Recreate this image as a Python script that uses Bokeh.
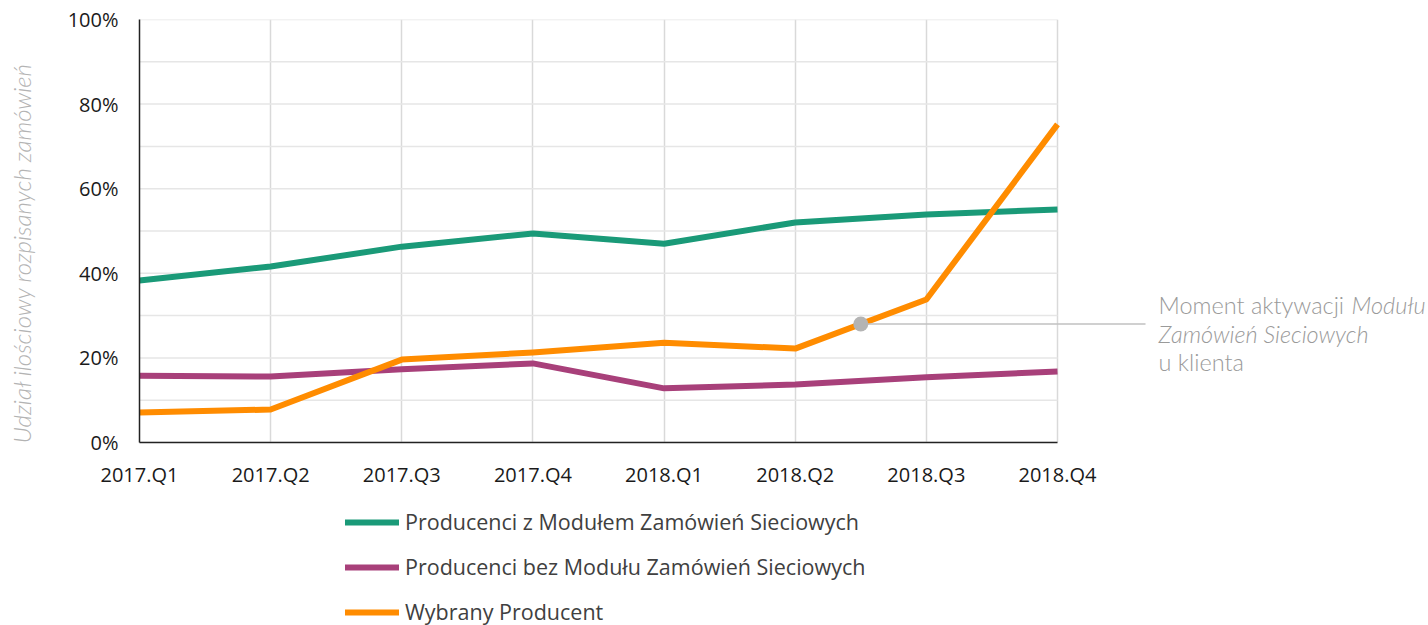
from bokeh.plotting import figure
from bokeh.layouts import column
from bokeh.models import (FixedTicker, Legend, LegendItem, Label, NumeralTickFormatter,
                          Range1d, LinearAxis)
from bokeh.embed import file_html
from bokeh.resources import INLINE

quarters = ["2017.Q1", "2017.Q2", "2017.Q3", "2017.Q4", "2018.Q1", "2018.Q2", "2018.Q3", "2018.Q4"]
with_module = [0.383, 0.416, 0.463, 0.494, 0.470, 0.520, 0.539, 0.551]
without_module = [0.158, 0.156, 0.173, 0.187, 0.128, 0.137, 0.154, 0.168]
selected = [0.071, 0.078, 0.196, 0.213, 0.236, 0.222, 0.338, 0.752]
series_names = ["Producenci z Modułem Zamówień Sieciowych",
                "Producenci bez Modułu Zamówień Sieciowych",
                "Wybrany Producent"]
colors = ["#1a9a78", "#a8407a", "#ff8c00"]
activation_x = 5.5
activation_y = 0.280
y_ticks = [0, 0.2, 0.4, 0.6, 0.8, 1.0]
y_grid = [0, 0.1, 0.2, 0.3, 0.4, 0.5, 0.6, 0.7, 0.8, 0.9, 1.0]
y_axis_title = "Udział ilościowy rozpisanych zamówień"
annotation_lines = [("Moment aktywacji", "normal"), ("Modułu", "italic"),
                    ("Zamówień Sieciowych", "italic"), ("u klienta", "normal")]

xs = list(range(len(quarters)))
last = len(quarters) - 1

# layout geometry (pixels)
W, H_MAIN, H_LEG = 1428, 490, 135
FRAME_L, FRAME_R_DATA, FRAME_T, FRAME_B = 139, 1057, 19, 442
x_end = last * (W - FRAME_L) / (FRAME_R_DATA - FRAME_L)   # extend frame to the right edge
px_per_unit = (FRAME_R_DATA - FRAME_L) / last

p = figure(width=W, height=H_MAIN, output_backend="svg", toolbar_location=None,
           x_range=Range1d(0, x_end), y_range=Range1d(0, 1.0),
           min_border_left=FRAME_L, min_border_right=0, min_border_top=FRAME_T,
           min_border_bottom=H_MAIN - FRAME_B)
p.outline_line_color = None

# axes
p.xaxis.ticker = FixedTicker(ticks=xs)
p.xaxis.bounds = (0, last)
p.xaxis.major_label_overrides = {i: q for i, q in enumerate(quarters)}
p.yaxis.ticker = FixedTicker(ticks=y_ticks)
p.yaxis.formatter = NumeralTickFormatter(format="0%")
for ax in (p.xaxis, p.yaxis):
    ax.axis_line_color = "#222222"
    ax.axis_line_width = 1.5
    ax.major_tick_line_color = None
    ax.minor_tick_line_color = None
    ax.major_label_text_font = "Open Sans"
    ax.major_label_text_font_size = "20px"
    ax.major_label_text_color = "#1a1a1a"
p.xaxis.major_label_standoff = 12
p.yaxis.major_label_standoff = 15

# y-axis title on an extra, label-only axis; trailing spaces nudge it downwards
title_axis = LinearAxis(ticker=FixedTicker(ticks=[]),
                        axis_line_color=None, major_tick_line_color=None,
                        minor_tick_line_color=None,
                        axis_label=y_axis_title + "\u2003\u2003\u2002", axis_label_standoff=29,
                        axis_label_text_font="Lato Light", axis_label_text_font_style="italic",
                        axis_label_text_font_size="24px", axis_label_text_color="#b3b3b3")
p.add_layout(title_axis, "left")

# grid
p.xgrid.ticker = FixedTicker(ticks=xs)
p.xgrid.grid_line_color = "#d9d9d9"
p.xgrid.grid_line_width = 1.5
p.ygrid.visible = False
p.segment(x0=[0] * len(y_grid), x1=[last] * len(y_grid), y0=y_grid, y1=y_grid,
          line_color="#e6e6e6", line_width=1.5)

renderers = []
for vals, c in zip([with_module, without_module, selected], colors):
    r = p.line(xs, vals, line_color=c, line_width=6, line_join="round")
    renderers.append(r)

# annotation: leader line + dot
p.line([activation_x, last + 88 / px_per_unit], [activation_y, activation_y],
       line_color="#c0c0c0", line_width=1.5)
p.scatter([activation_x], [activation_y], size=15, fill_color="#b4b4b4", line_color=None)

ann = dict(x_units="screen", y_units="screen", text_font="Lato Light", text_font_size="23.5px",
           text_color="#9a9a9a", text_baseline="middle")
ann_pos = [(1158, 304), (1351, 304), (1158, 333), (1158, 361)]
for (txt, style), (ax_, ay_) in zip(annotation_lines, ann_pos):
    p.add_layout(Label(x=ax_ - FRAME_L, y=FRAME_B - ay_, text=txt, text_font_style=style, **ann))

# legend figure below
p2 = figure(width=W, height=H_LEG, output_backend="svg", toolbar_location=None,
            x_axis_type=None, y_axis_type=None,
            x_range=Range1d(0, 1), y_range=Range1d(0, 1),
            min_border_left=FRAME_L, min_border_top=0, min_border_right=0, min_border_bottom=0)
p2.outline_line_color = None
p2.xgrid.visible = False
p2.ygrid.visible = False
leg_renderers = []
for c in colors:
    leg_renderers.append(p2.line([5, 6], [5, 5], line_color=c, line_width=6, line_cap="round"))
items = [LegendItem(label=n, renderers=[r]) for n, r in zip(series_names, leg_renderers)]
legend = Legend(items=items, location=(206, -1), orientation="vertical",
                glyph_width=54, glyph_height=24, label_height=24, spacing=16,
                label_standoff=6, padding=0, margin=0,
                label_text_font="Open Sans", label_text_font_size="21.5px",
                label_text_color="#404040", label_text_baseline="middle",
                background_fill_alpha=0, border_line_color=None)
p2.add_layout(legend, "center")

layout = column(p, p2, spacing=0)
open("out.html", "w").write(file_html(layout, INLINE))
